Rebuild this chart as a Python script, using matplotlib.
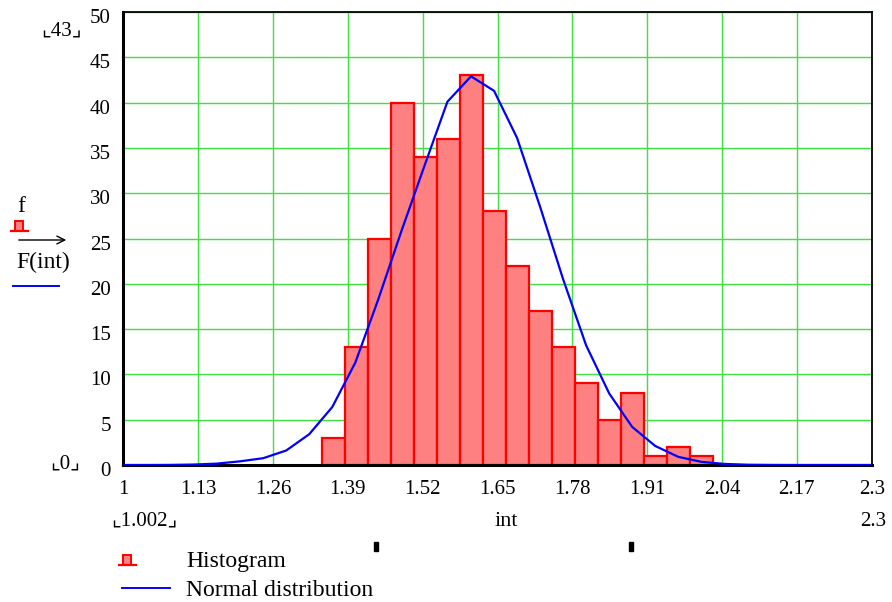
import numpy as np
import matplotlib
matplotlib.use('Agg')
import matplotlib.pyplot as plt
import matplotlib.transforms as mtransforms
from matplotlib.patches import Rectangle
from matplotlib.lines import Line2D

# histogram bins (edges) and counts
bin_edges = [1.345, 1.385, 1.425, 1.465, 1.505, 1.545, 1.585, 1.625, 1.665,
             1.705, 1.745, 1.785, 1.825, 1.865, 1.905, 1.945, 1.985, 2.025]
counts = [3, 13, 25, 40, 34, 36, 43, 28, 22, 17, 13, 9, 5, 8, 1, 2, 1]

# normal distribution curve
curve_x = [1.002, 1.042, 1.082, 1.122, 1.162, 1.202, 1.243, 1.283, 1.323,
           1.363, 1.403, 1.443, 1.483, 1.523, 1.563, 1.604, 1.644, 1.684,
           1.724, 1.764, 1.804, 1.844, 1.884, 1.924, 1.964, 2.004, 2.044,
           2.084, 2.124, 2.164, 2.204, 2.244, 2.284, 2.3]
curve_y = [0.0, 0.0, 0.01, 0.05, 0.15, 0.4, 0.75, 1.6, 3.4,
           6.4, 11.3, 18.3, 25.8, 33.0, 40.1, 42.9, 41.3, 36.1,
           28.5, 20.5, 13.2, 7.9, 4.2, 2.1, 0.9, 0.35, 0.12,
           0.03, 0.01, 0.0, 0.0, 0.0, 0.0, 0.0]

xticks = [1, 1.13, 1.26, 1.39, 1.52, 1.65, 1.78, 1.91, 2.04, 2.17, 2.3]
xtick_labels = ['1', '1.13', '1.26', '1.39', '1.52', '1.65', '1.78', '1.91', '2.04', '2.17', '2.3']
yticks = [0, 5, 10, 15, 20, 25, 30, 35, 40, 45, 50]

W, H = 892, 602
serif = ['Liberation Serif', 'DejaVu Serif']
mark_font = ['Liberation Serif', 'DejaVu Sans']

def fx(px):
    return px / W

def fy(py):
    return 1 - py / H

fig = plt.figure(figsize=(W / 100, H / 100), dpi=100, facecolor='white')
ax = fig.add_axes([fx(123.3), fy(465), (871.7 - 123.3) / W, (465 - 12) / H])

widths = np.diff(bin_edges)
ax.bar(bin_edges[:-1], counts, width=widths, align='edge',
       facecolor='#ff8080', edgecolor='#ff0000', linewidth=1.6, zorder=2)
ax.plot(curve_x, curve_y, color='#0000ff', linewidth=1.6, zorder=3)

ax.set_xlim(1, 2.3)
ax.set_ylim(0, 50)
ax.set_xticks(xticks)
ax.set_xticklabels(xtick_labels)
ax.set_yticks(yticks)
ax.grid(True, color='#3fe03f', linewidth=1.0, zorder=0)
ax.set_axisbelow(True)
ax.tick_params(length=0, labelsize=15, pad=9)
ax.tick_params(axis='x', pad=11)
shift = mtransforms.ScaledTranslation(0, -4 / 100, fig.dpi_scale_trans)
for lab in ax.get_xticklabels() + ax.get_yticklabels():
    lab.set_family(serif)
for lab in ax.get_yticklabels():
    lab.set_transform(lab.get_transform() + shift)
for side in ['left', 'bottom']:
    ax.spines[side].set_linewidth(2.2)
for side in ['top', 'right']:
    ax.spines[side].set_linewidth(1.3)
for s in ax.spines.values():
    s.set_color('black')

# Mathcad style limit markers
fig.text(fx(61), fy(31), '\u231e43\u231f', family=mark_font, fontsize=15,
         ha='center', va='center')
fig.text(fx(65), fy(464), '\u231e0\u231f', family=mark_font, fontsize=15,
         ha='center', va='center')
fig.text(fx(144), fy(521), '\u231e1.002\u231f', family=mark_font, fontsize=15,
         ha='center', va='center')
fig.text(fx(506), fy(521), 'int', family=serif, fontsize=16,
         ha='center', va='center')
fig.text(fx(886), fy(521), '2.3', family=serif, fontsize=15,
         ha='right', va='center')

# little black handles
for px in [374, 629]:
    fig.patches.append(Rectangle((fx(px), fy(551)), 4 / W, 9 / H,
                                 transform=fig.transFigure, color='black'))

def hist_icon(x0, ybase):
    fig.lines.append(Line2D([fx(x0), fx(x0 + 17)], [fy(ybase), fy(ybase)],
                            transform=fig.transFigure, color='#ff0000', linewidth=1.6))
    fig.patches.append(Rectangle((fx(x0 + 4), fy(ybase)), 8 / W, 10 / H,
                                 transform=fig.transFigure, facecolor='#ff8080',
                                 edgecolor='#ff0000', linewidth=1.4))

# left side trace labels
fig.text(fx(17), fy(207), 'f', family=serif, fontsize=17, ha='left', va='center')
hist_icon(11, 231)
ax.annotate('', xy=(fx(69), fy(240)), xytext=(fx(16), fy(240)),
            xycoords='figure fraction', textcoords='figure fraction',
            arrowprops=dict(arrowstyle='->', color='black', lw=1.0,
                            mutation_scale=14))
fig.text(fx(16), fy(262), 'F(int)', family=serif, fontsize=17, ha='left', va='center')
fig.lines.append(Line2D([fx(13), fx(59)], [fy(286), fy(286)],
                        transform=fig.transFigure, color='#0000ff', linewidth=1.4))

# legend at the bottom
hist_icon(119, 565)
fig.text(fx(186), fy(562), 'Histogram', family=serif, fontsize=17, ha='left', va='center')
fig.lines.append(Line2D([fx(122), fx(170)], [fy(588), fy(588)],
                        transform=fig.transFigure, color='#0000ff', linewidth=1.4))
fig.text(fx(186), fy(590), 'Normal distribution', family=serif, fontsize=17,
         ha='left', va='center')

fig.savefig('out.png', dpi=100, facecolor='white')
